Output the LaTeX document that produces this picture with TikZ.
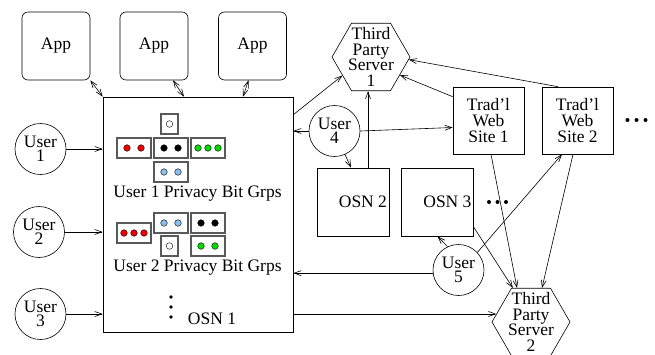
\documentclass[tikz,border=0pt]{standalone}
\usepackage{fontspec}
\setmainfont{Liberation Serif}
\usetikzlibrary{arrows.meta,shapes.geometric}
\definecolor{bitred}{RGB}{240,0,0}
\definecolor{bitgreen}{RGB}{0,220,0}
\definecolor{bitblue}{RGB}{140,190,235}

\tikzset{
  txt/.style={font=\fontsize{17.5}{16}\selectfont, align=center},
  app/.style={draw, rounded corners=6pt, minimum width=68, minimum height=68, inner sep=0, txt},
  usr/.style={draw, circle, minimum size=51, inner sep=0, align=center, font=\fontsize{17.5}{14}\selectfont},
  osnbox/.style={draw, minimum width=72, minimum height=68, inner sep=0},
  web/.style={draw, minimum width=71, minimum height=67, inner sep=0, txt},
  server/.style={draw, regular polygon, regular polygon sides=6, minimum size=78, inner sep=0},
  srvtxt/.style={txt, font=\fontsize{17.5}{15.5}\selectfont},
  bitbox/.style={draw=black!65, line width=1.3pt, minimum height=20, inner sep=0},
  bit/.style={draw=black, line width=0.4pt},
}

\begin{document}
\begin{tikzpicture}[x=1pt, y=-1pt, line width=0.6pt, >={Straight Barb[length=7pt,width=5pt]}]
  \useasboundingbox (0,0) rectangle (655,354);

  % apps on top of OSN 1
  \node[app] (app1) at (56,46) {App};
  \node[app] (app2) at (154,46) {App};
  \node[app] (app3) at (252.5,46) {App};

  % OSN 1 with the privacy bit groups
  \node[draw, minimum width=190, minimum height=235, inner sep=0] (osn1) at (198,214.5) {};

  % user 1 groups
  \node[bitbox, minimum width=17] (w1) at (169.5,124) {};
  \node[bitbox, minimum width=34] (r1) at (134,148) {};
  \node[bitbox, minimum width=34] (k1) at (171,148) {};
  \node[bitbox, minimum width=34] (g1) at (208,148) {};
  \node[bitbox, minimum width=34] (b1) at (171,172) {};
  \filldraw[bit, fill=white] (w1.center) circle (3.3);
  \foreach \dx in {-7,7} {
    \filldraw[bit, fill=bitred] ([xshift=\dx]r1.center) circle (3.3);
    \filldraw[bit, fill=black] ([xshift=\dx]k1.center) circle (3.3);
    \filldraw[bit, fill=bitblue] ([xshift=\dx]b1.center) circle (3.3);
  }
  \foreach \dx in {-10,0,10}
    \filldraw[bit, fill=bitgreen] ([xshift=\dx]g1.center) circle (3.3);
  \node[txt] (grp1) at (197.5,194) {User 1 Privacy Bit Grps};

  % user 2 groups
  \node[bitbox, minimum width=34] (r2) at (134,233) {};
  \node[bitbox, minimum width=34] (b2) at (171,223) {};
  \node[bitbox, minimum width=34] (k2) at (208,223) {};
  \node[bitbox, minimum width=17] (w2) at (169.5,246) {};
  \node[bitbox, minimum width=34] (g2) at (208,246) {};
  \filldraw[bit, fill=white] (w2.center) circle (3.3);
  \foreach \dx in {-10,0,10}
    \filldraw[bit, fill=bitred] ([xshift=\dx]r2.center) circle (3.3);
  \foreach \dx in {-7,7} {
    \filldraw[bit, fill=bitblue] ([xshift=\dx]b2.center) circle (3.3);
    \filldraw[bit, fill=black] ([xshift=\dx]k2.center) circle (3.3);
    \filldraw[bit, fill=bitgreen] ([xshift=\dx]g2.center) circle (3.3);
  }
  \node[txt] (grp2) at (197.5,268) {User 2 Privacy Bit Grps};

  \foreach \y in {297,307,317}
    \fill (171,\y) circle (1.8);
  \node[txt] (osn1txt) at (212,319) {OSN 1};

  % other OSNs
  \node[osnbox, label={[txt, anchor=east, inner sep=2pt]east:OSN 2}] (osn2) at (353,202) {};
  \node[osnbox, label={[txt, anchor=east, inner sep=2pt]east:OSN 3}] (osn3) at (437.5,202) {};
  \foreach \x in {489,497.5,506}
    \fill (\x,202) circle (2);

  % web sites
  \node[web] (ws1) at (488.5,120.5) {Trad'l\\Web\\Site 1};
  \node[web] (ws2) at (577.5,120.5) {Trad'l\\Web\\Site 2};
  \foreach \x in {627.5,636.5,645.5}
    \fill (\x,120) circle (2);

  % third party servers
  \node[server, label={[srvtxt]center:Third\\Party\\Server\\1}] (tps1) at (371,57) {};
  \node[server, label={[srvtxt]center:Third\\Party\\Server\\2}] (tps2) at (531,322) {};

  % users
  \node[usr] (u1) at (40.5,149) {User\\1};
  \node[usr] (u2) at (39,232) {User\\2};
  \node[usr] (u3) at (40.5,314) {User\\3};
  \node[usr] (u4) at (334.5,131) {User\\4};
  \node[usr] (u5) at (458.5,270) {User\\5};

  % connectors
  \draw[<->] (app1.south east) -- (osn1.north west);
  \draw[<->] (app2.-61) -- ([xshift=-14]osn1.north);
  \draw[<->] ([xshift=-4]app3.south) -- ([xshift=45]osn1.north);

  \draw[->] (u1.east) -- (u1.east -| osn1.west);
  \draw[->] (u2.east) -- (u2.east -| osn1.west);
  \draw[->] (u3.east) -- (u3.east -| osn1.west);

  \draw[->] ([yshift=-18]osn1.north east) -- (tps1.213);
  \draw[->] (u4.west) -- (u4.west -| osn1.east);
  \draw[->] (u4.east) -- ([yshift=-7]ws1.west);
  \draw[->] (u4.-66) -- ([xshift=-2]osn2.north);
  \draw[->] ([xshift=15]osn2.north) -- ([xshift=15]osn2.north |- tps1.south);
  \draw[->] ([yshift=-10]ws1.north west) -- (tps1.-32);
  \draw[->] ([xshift=-19.5]ws2.north) -- (tps1.-4);

  \draw[->] (u5.43) -- ([xshift=-15.5]ws2.south);
  \draw[->] (u5.115) -- (osn3.south);
  \draw[->] (u5.187) -- (u5.187 -| osn1.east);

  \draw[->] (osn1.east |- tps2.167) -- (tps2.167);
  \draw[->] ([yshift=9]osn3.south east) -- (tps2.118);
  \draw[->] ([xshift=2.5]ws1.south) -- ([xshift=-14]tps2.north);
  \draw[->] ([xshift=-4.5]ws2.south) -- ([xshift=11]tps2.north);
\end{tikzpicture}
\end{document}
